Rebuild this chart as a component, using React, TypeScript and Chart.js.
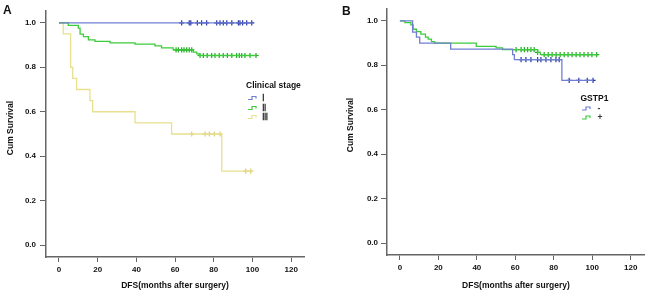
import React, { useEffect, useRef } from "react";
import { Chart, registerables } from "chart.js";

Chart.register(...registerables);

const FONT = "'Liberation Sans', Arial, sans-serif";

// ---- axis ticks ----
const xTickValues = [0, 20, 40, 60, 80, 100, 120];
const yTickValues = [0, 0.2, 0.4, 0.6, 0.8, 1.0];

// ---- Panel A: Clinical stage ----
const stageLabels = ["Ⅰ", "Ⅱ", "Ⅲ"];

const stage1Times = [0, 100];
const stage1Surv = [1, 1];
const stage1Censor = [63.4, 67.3, 68.1, 71.5, 73.7, 76.3, 81.5, 83.2, 84.9, 86.7, 89.3, 92.7, 93.5, 94.9, 97, 99.6];

const stage2Times = [0, 4.8, 10, 10.9, 12.6, 15.2, 18.6, 26.4, 39.3, 49.6, 53, 59, 69.4, 71.2, 72.4, 102];
const stage2Surv = [1, 0.988, 0.976, 0.949, 0.938, 0.923, 0.916, 0.91, 0.904, 0.896, 0.887, 0.878, 0.868, 0.86, 0.853, 0.853];
const stage2Censor = [60.5, 61.7, 63.4, 64.6, 66, 67.3, 68.6, 72.9, 74.6, 76.6, 78.9, 80.6, 82.8, 84.9, 87, 89.3, 91.8, 93.2, 94.4, 96.1, 98.7, 101.8];

const stage3Times = [0, 2.2, 6.0, 7.1, 9.1, 16, 17.4, 39.3, 58.2, 84.1, 99.6];
const stage3Surv = [1, 0.95, 0.8, 0.75, 0.7, 0.65, 0.6, 0.55, 0.5, 0.333, 0.333];
const stage3Censor = [68.6, 75.5, 77.7, 80.3, 83.2, 96.5, 99.1];

// ---- Panel B: GSTP1 ----
const gstpLabels = ["-", "+"];

const negTimes = [0, 6.6, 8.6, 10.3, 26.4, 58.6, 59.5, 84.2, 100.4];
const negSurv = [1, 0.949, 0.927, 0.9, 0.873, 0.848, 0.825, 0.732, 0.732];
const negCensor = [63, 65.5, 68.1, 71.6, 73.3, 75.9, 78.5, 81.1, 82.8, 88, 93, 97.4, 100.4];

const posTimes = [0, 2.6, 5.7, 6.9, 8.6, 10.9, 13.3, 14.7, 16.4, 18.1, 39.7, 50, 53.4, 71.6, 73, 102.6];
const posSurv = [1, 0.992, 0.982, 0.962, 0.951, 0.94, 0.927, 0.918, 0.906, 0.9, 0.885, 0.878, 0.87, 0.858, 0.848, 0.848];
const posCensor = [60.4, 63, 64.7, 66.4, 68.1, 69.8, 71.6, 75, 77.1, 79.1, 81.2, 83.3, 85.4, 87.4, 89.5, 91.6, 93.6, 95.7, 97.8, 99.8, 102.3];

// ---- colours ----
const BLUE_LINE = "#6f7fd4";
const BLUE_MARK = "#2b3aa6";
const GREEN_LINE = "#3ccc3c";
const GREEN_MARK = "#22aa22";
const YELLOW_LINE = "#e9e08e";
const YELLOW_MARK = "#d9cd72";

function curve(times: number[], surv: number[]) {
  return times.map((t, i) => ({ x: t, y: surv[i] }));
}

function levelAt(times: number[], surv: number[], t: number) {
  let s = surv[0];
  for (let i = 0; i < times.length; i++) {
    if (times[i] <= t) s = surv[i];
  }
  return s;
}

function censorPts(times: number[], surv: number[], cens: number[]) {
  return cens.map((c) => ({ x: c, y: levelAt(times, surv, c) }));
}

function lineDs(data: any[], color: string) {
  return {
    data,
    showLine: true,
    stepped: true,
    borderColor: color,
    borderWidth: 1.3,
    pointRadius: 0,
    fill: false,
  };
}

function markDs(data: any[], color: string) {
  return {
    data,
    showLine: false,
    pointStyle: "cross",
    pointRadius: 2.6,
    pointBorderWidth: 1.2,
    pointBorderColor: color,
    borderColor: color,
    backgroundColor: color,
  };
}

const decorPlugin = {
  id: "kmDecor",
  afterDraw(chart: any, _args: any, opts: any) {
    const ctx = chart.ctx as CanvasRenderingContext2D;
    ctx.save();
    ctx.fillStyle = "#111";
    ctx.font = `bold 12px ${FONT}`;
    ctx.textAlign = "left";
    ctx.textBaseline = "alphabetic";
    ctx.fillText(opts.letter, opts.letterX, opts.letterY);

    ctx.save();
    ctx.translate(opts.yTitleX, opts.yTitleY);
    ctx.rotate(-Math.PI / 2);
    ctx.font = `bold 8.5px ${FONT}`;
    ctx.textAlign = "center";
    ctx.textBaseline = "middle";
    ctx.fillStyle = "#111";
    ctx.fillText(opts.yTitle, 0, 0);
    ctx.restore();

    ctx.font = `bold 8.5px ${FONT}`;
    ctx.textAlign = "left";
    ctx.textBaseline = "middle";
    ctx.fillStyle = "#111";
    ctx.fillText(opts.legendTitle, opts.legendX, opts.legendY);

    opts.entries.forEach((e: any) => {
      const x = opts.symbolX;
      const y = e.y;
      ctx.beginPath();
      ctx.strokeStyle = e.color;
      ctx.lineWidth = 1.2;
      ctx.moveTo(x, y + 1.5);
      ctx.lineTo(x + 4, y + 1.5);
      ctx.lineTo(x + 4, y - 1.5);
      ctx.lineTo(x + 8, y - 1.5);
      ctx.lineTo(x + 8, y + 0.5);
      ctx.stroke();
      ctx.fillStyle = "#333";
      ctx.font = `bold 8.5px ${FONT}`;
      ctx.fillText(e.label, opts.labelX, y + 0.5);
    });
    ctx.restore();
  },
};

function makeConfig(p: any) {
  return {
    type: "scatter",
    data: { datasets: p.datasets },
    plugins: [decorPlugin],
    options: {
      responsive: false,
      animation: false,
      layout: { padding: { left: 0, right: p.padRight, top: p.padTop, bottom: 0 } },
      plugins: {
        legend: { display: false },
        tooltip: { enabled: false },
        kmDecor: p.decor,
      },
      scales: {
        x: {
          type: "linear",
          min: p.xMin,
          max: p.xMax,
          afterBuildTicks: (s: any) => {
            s.ticks = xTickValues.map((v) => ({ value: v }));
          },
          afterFit: (s: any) => {
            s.height = p.xAxisHeight;
          },
          grid: { drawOnChartArea: false, drawTicks: true, tickLength: 5, color: "#666", lineWidth: 1 },
          border: { display: true, color: "#666", width: 1.5 },
          ticks: {
            padding: 3,
            color: "#111",
            font: { family: FONT, size: 8, weight: "bold" },
            maxRotation: 0,
            callback: (v: any) => String(v),
          },
          title: {
            display: true,
            text: "DFS(months after surgery)",
            color: "#111",
            font: { family: FONT, size: 8.5, weight: "bold" },
            padding: { top: 0, bottom: p.xTitlePad },
          },
        },
        y: {
          type: "linear",
          min: -0.053,
          max: 1.053,
          afterBuildTicks: (s: any) => {
            s.ticks = yTickValues.map((v) => ({ value: v }));
          },
          afterFit: (s: any) => {
            s.width = p.yAxisWidth;
          },
          grid: { drawOnChartArea: false, drawTicks: true, tickLength: 6, color: "#666", lineWidth: 1 },
          border: { display: true, color: "#666", width: 1.5 },
          ticks: {
            padding: p.yTickPad,
            color: "#111",
            font: { family: FONT, size: 8, weight: "bold" },
            callback: (v: any) => Number(v).toFixed(1),
          },
        },
      },
    },
  };
}

function KMChart(props: { config: any; left: number }) {
  const ref = useRef<HTMLCanvasElement | null>(null);
  useEffect(() => {
    if (!ref.current) return;
    const chart = new Chart(ref.current, props.config);
    return () => chart.destroy();
  }, []);
  return (
    <canvas
      ref={ref}
      width={325}
      height={294}
      style={{ position: "absolute", left: props.left, top: 0, width: 325, height: 294 }}
    />
  );
}

export default function App() {
  const configA = makeConfig({
    padRight: 21,
    padTop: 11,
    xMin: -6.7,
    xMax: 126.6,
    xAxisHeight: 37,
    yAxisWidth: 46,
    yTickPad: 4,
    xTitlePad: 3,
    datasets: [
      lineDs(curve(stage1Times, stage1Surv), BLUE_LINE),
      lineDs(curve(stage2Times, stage2Surv), GREEN_LINE),
      lineDs(curve(stage3Times, stage3Surv), YELLOW_LINE),
      markDs(censorPts(stage1Times, stage1Surv, stage1Censor), BLUE_MARK),
      markDs(censorPts(stage2Times, stage2Surv, stage2Censor), GREEN_MARK),
      markDs(censorPts(stage3Times, stage3Surv, stage3Censor), YELLOW_MARK),
    ],
    decor: {
      letter: "A",
      letterX: 3,
      letterY: 13.5,
      yTitle: "Cum Survival",
      yTitleX: 10.5,
      yTitleY: 128,
      legendTitle: "Clinical stage",
      legendX: 246,
      legendY: 86,
      symbolX: 248,
      labelX: 262,
      entries: [
        { color: BLUE_LINE, label: stageLabels[0], y: 98 },
        { color: GREEN_LINE, label: stageLabels[1], y: 108 },
        { color: YELLOW_LINE, label: stageLabels[2], y: 117 },
      ],
    },
  });

  const configB = makeConfig({
    padRight: 4,
    padTop: 9,
    xMin: -6.7,
    xMax: 127.3,
    xAxisHeight: 39,
    yAxisWidth: 62,
    yTickPad: 3,
    xTitlePad: 3.4,
    datasets: [
      lineDs(curve(negTimes, negSurv), BLUE_LINE),
      lineDs(curve(posTimes, posSurv), GREEN_LINE),
      markDs(censorPts(negTimes, negSurv, negCensor), BLUE_MARK),
      markDs(censorPts(posTimes, posSurv, posCensor), GREEN_MARK),
    ],
    decor: {
      letter: "B",
      letterX: 17,
      letterY: 15,
      yTitle: "Cum Survival",
      yTitleX: 26,
      yTitleY: 125,
      legendTitle: "GSTP1",
      legendX: 255.5,
      legendY: 98.5,
      symbolX: 257,
      labelX: 272.5,
      entries: [
        { color: BLUE_LINE, label: gstpLabels[0], y: 108.5 },
        { color: GREEN_LINE, label: gstpLabels[1], y: 117.5 },
      ],
    },
  });

  return (
    <div style={{ position: "fixed", left: 0, top: 0, width: 650, height: 294, background: "#fff" }}>
      <KMChart config={configA} left={0} />
      <KMChart config={configB} left={325} />
    </div>
  );
}
